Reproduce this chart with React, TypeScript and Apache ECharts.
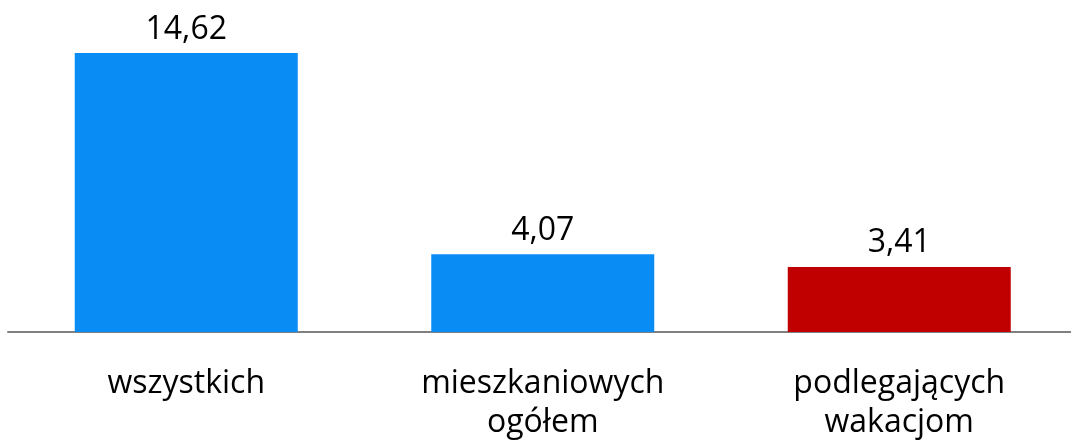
import React, { useEffect, useRef } from "react";
import * as echarts from "echarts";

const categories = ["wszystkich", "mieszkaniowych\nogółem", "podlegających\nwakacjom"];
const values = [14.62, 4.07, 3.41];
const barColors = ["#0A8CF5", "#0A8CF5", "#C00000"];

export default function App() {
  const ref = useRef<HTMLDivElement>(null);
  useEffect(() => {
    const chart = echarts.init(ref.current!, null, { renderer: "svg" });
    chart.setOption({
      animation: false,
      grid: { left: 8, width: 1069.5, top: 53, bottom: 113, containLabel: false, outerBoundsMode: "none" },
      xAxis: {
        type: "category",
        data: categories,
        axisLine: { lineStyle: { color: "#808080", width: 2 } },
        axisTick: { show: false },
        axisLabel: {
          color: "#000",
          fontSize: 32,
          fontFamily: "Open Sans",
          lineHeight: 39,
          margin: 29,
          interval: 0,
        },
      },
      yAxis: { type: "value", min: 0, max: 14.62, show: false, splitLine: { show: false } },
      series: [
        {
          type: "bar",
          barWidth: 223,
          data: values.map((v, i) => ({ value: v, itemStyle: { color: barColors[i] } })),
          label: {
            show: true,
            position: "top",
            distance: 11,
            color: "#000",
            fontSize: 32,
            fontFamily: "Open Sans",
            formatter: (p: any) => p.value.toFixed(2).replace(".", ","),
          },
        },
      ],
    });
    return () => chart.dispose();
  }, []);
  return <div ref={ref} style={{ position: "fixed", left: 0, top: 0, width: 1071, height: 445 }} />;
}
